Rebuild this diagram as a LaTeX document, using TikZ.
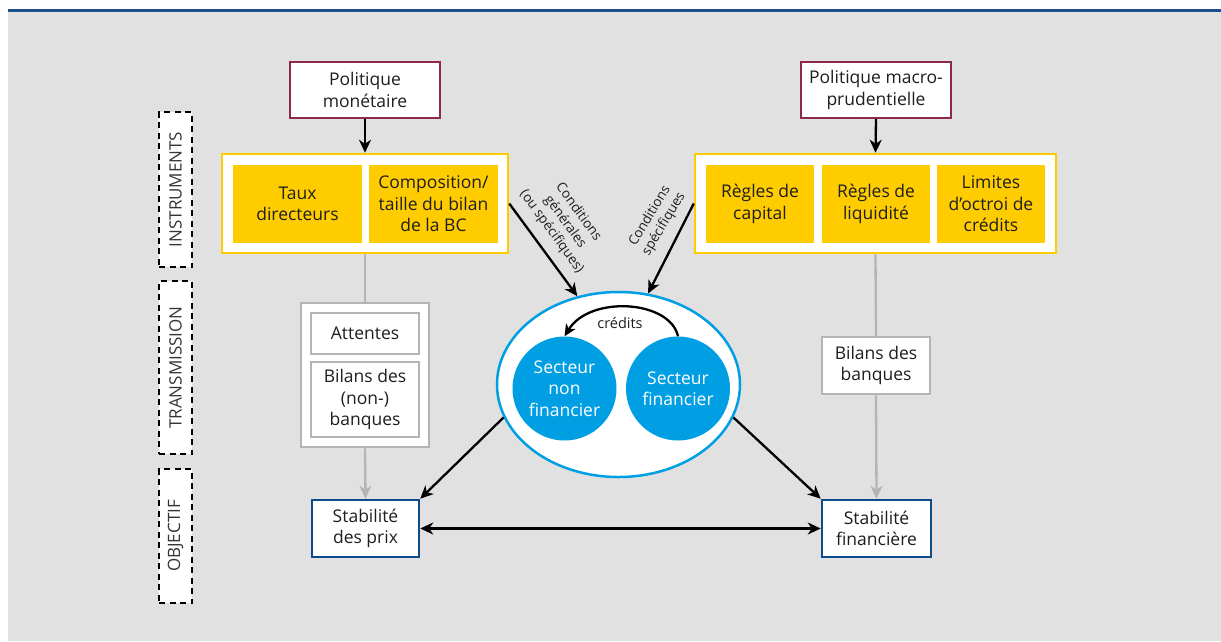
\documentclass[tikz,border=0pt]{standalone}
\usepackage{fontspec}
\setmainfont{Open Sans}
\usetikzlibrary{arrows.meta,shapes.geometric}
\definecolor{bg}{HTML}{E1E1E1}
\definecolor{topblue}{HTML}{1B4F8E}
\definecolor{maroon}{HTML}{8C2A4B}
\definecolor{gold}{HTML}{FFCC00}
\definecolor{boxgrey}{HTML}{B4B4B4}
\definecolor{navy}{HTML}{0D4B8E}
\definecolor{cyanb}{HTML}{009FE3}
\definecolor{txt}{HTML}{1E1E1E}
\tikzset{
  base/.style={inner sep=0pt, align=center, text=txt, font=\fontsize{17.5}{21.5}\selectfont},
  polbox/.style={base, draw=maroon, fill=white, line width=2.2pt},
  outerbox/.style={base, draw=gold, fill=white, line width=2.5pt},
  goldbox/.style={base, fill=gold},
  greybox/.style={base, draw=boxgrey, fill=white, line width=2.5pt},
  goalbox/.style={base, draw=navy, fill=white, line width=2.5pt},
  sector/.style={base, circle, fill=cyanb, text=white, minimum size=104pt},
  phase/.style={draw=black, dashed, dash pattern=on 6pt off 4.5pt, fill=white, line width=1.3pt, inner sep=0pt},
  phasetxt/.style={base, rotate=90, font=\fontsize{17}{20}\selectfont, text=txt!90},
  blk/.style={draw=black, line width=2.3pt, -{Stealth[length=13pt,width=12pt,inset=4pt]}},
  blk2/.style={draw=black, line width=2.3pt, {Stealth[length=13pt,width=12pt,inset=4pt]}-{Stealth[length=13pt,width=12pt,inset=4pt]}},
  gry/.style={draw=boxgrey, line width=2.3pt},
  gryarr/.style={gry, -{Stealth[length=13pt,width=12pt,inset=4pt]}},
  cond/.style={base, font=\fontsize{13.5}{16.5}\selectfont}
}
\begin{document}
\begin{tikzpicture}[x=1pt,y=-1pt]
\useasboundingbox (0,0) rectangle (1221,641);
\fill[white] (0,0) rectangle (1221,641);
\fill[bg] (8,11) rectangle (1221,641);
\fill[topblue] (8,9) rectangle (1221,11.5);

% phase labels
\node[phase, minimum width=33pt, minimum height=155pt] (ph1) at (175.5,189.5) {};
\node[phasetxt] (ph1t) at (ph1.center) {INSTRUMENTS};
\node[phase, minimum width=33pt, minimum height=173pt] (ph2) at (175.5,367.5) {};
\node[phasetxt] (ph2t) at (ph2.center) {TRANSMISSION};
\node[phase, minimum width=33pt, minimum height=134pt] (ph3) at (175.5,536) {};
\node[phasetxt] (ph3t) at (ph3.center) {OBJECTIF};

% policy boxes
\node[polbox, minimum width=150pt, minimum height=56pt] (pm) at (365,90) {Politique\\monétaire};
\node[polbox, minimum width=150pt, minimum height=56pt] (pmp) at (876,90) {Politique macro-\\prudentielle};

% instruments
\node[outerbox, minimum width=286pt, minimum height=99pt] (outL) at (365,203.5) {};
\node[goldbox, minimum width=129pt, minimum height=78pt] (taux) at (297.5,204) {Taux\\directeurs};
\node[goldbox, minimum width=129pt, minimum height=78pt] (compo) at (433.5,204) {Composition/\\taille du bilan\\de la BC};
\node[outerbox, minimum width=361pt, minimum height=99pt] (outR) at (875.5,203.5) {};
\node[goldbox, minimum width=108pt, minimum height=78pt] (cap) at (760,204) {Règles de\\capital};
\node[goldbox, minimum width=108pt, minimum height=78pt] (liq) at (876,204) {Règles de\\liquidité};
\node[goldbox, minimum width=108pt, minimum height=78pt] (lim) at (991,204) {Limites\\d’octroi de\\crédits};

% transmission
\node[greybox, minimum width=128pt, minimum height=144pt] (trL) at (365,375) {};
\node[greybox, minimum width=108pt, minimum height=41pt] (att) at (365,333.5) {Attentes};
\node[greybox, minimum width=108pt, minimum height=75pt] (bnb) at (365,399.5) {Bilans des\\(non-)\\banques};
\node[greybox, minimum width=108pt, minimum height=57pt] (bb) at (876,365.5) {Bilans des\\banques};

% goals
\node[goalbox, minimum width=107pt, minimum height=57pt] (sp) at (365.5,528.5) {Stabilité\\des prix};
\node[goalbox, minimum width=109pt, minimum height=57pt] (sfin) at (876.5,528.5) {Stabilité\\financière};

% ellipse with sectors
\node[ellipse, draw=cyanb, fill=white, line width=2.5pt, minimum width=243pt, minimum height=185pt, inner sep=0pt] (ell) at (618.5,384.5) {};
\node[sector] (snf) at (564.5,388.5) {Secteur\\non\\financier};
\node[sector] (sfi) at (678,388.5) {Secteur\\financier};
\draw[draw=black, line width=2.3pt, -{Stealth[length=12pt,width=11pt,inset=3.5pt]}] (sfi.north) .. controls (670,300) and (590,295) .. (snf.north);
\node[base, font=\fontsize{14.5}{17}\selectfont] (cred) at (620,323) {crédits};

% connectors
\draw[blk] (pm.south) -- (outL.north);
\draw[blk] (pmp.south) -- (outR.north);
\draw[gry] (outL.south) -- (trL.north);
\draw[gryarr] (trL.south) -- (sp.north);
\draw[gry] (outR.south) -- (bb.north);
\draw[gryarr] (bb.south) -- (sfin.north);
\draw[blk] (outL.east) -- (ell.115);
\draw[blk] (outR.west) -- (ell.72);
\draw[blk] (ell.196) -- (sp.north east);
\draw[blk] (ell.-16) -- (sfin.north west);
\draw[blk2] (sp.east) -- (sfin.west);

% condition labels
\node[cond, rotate=-54] (c1) at (565,222) {Conditions\\générales\\(ou spécifiques)};
\node[cond, rotate=59] (c2) at (657,220) {Conditions\\spécifiques};
\end{tikzpicture}
\end{document}
